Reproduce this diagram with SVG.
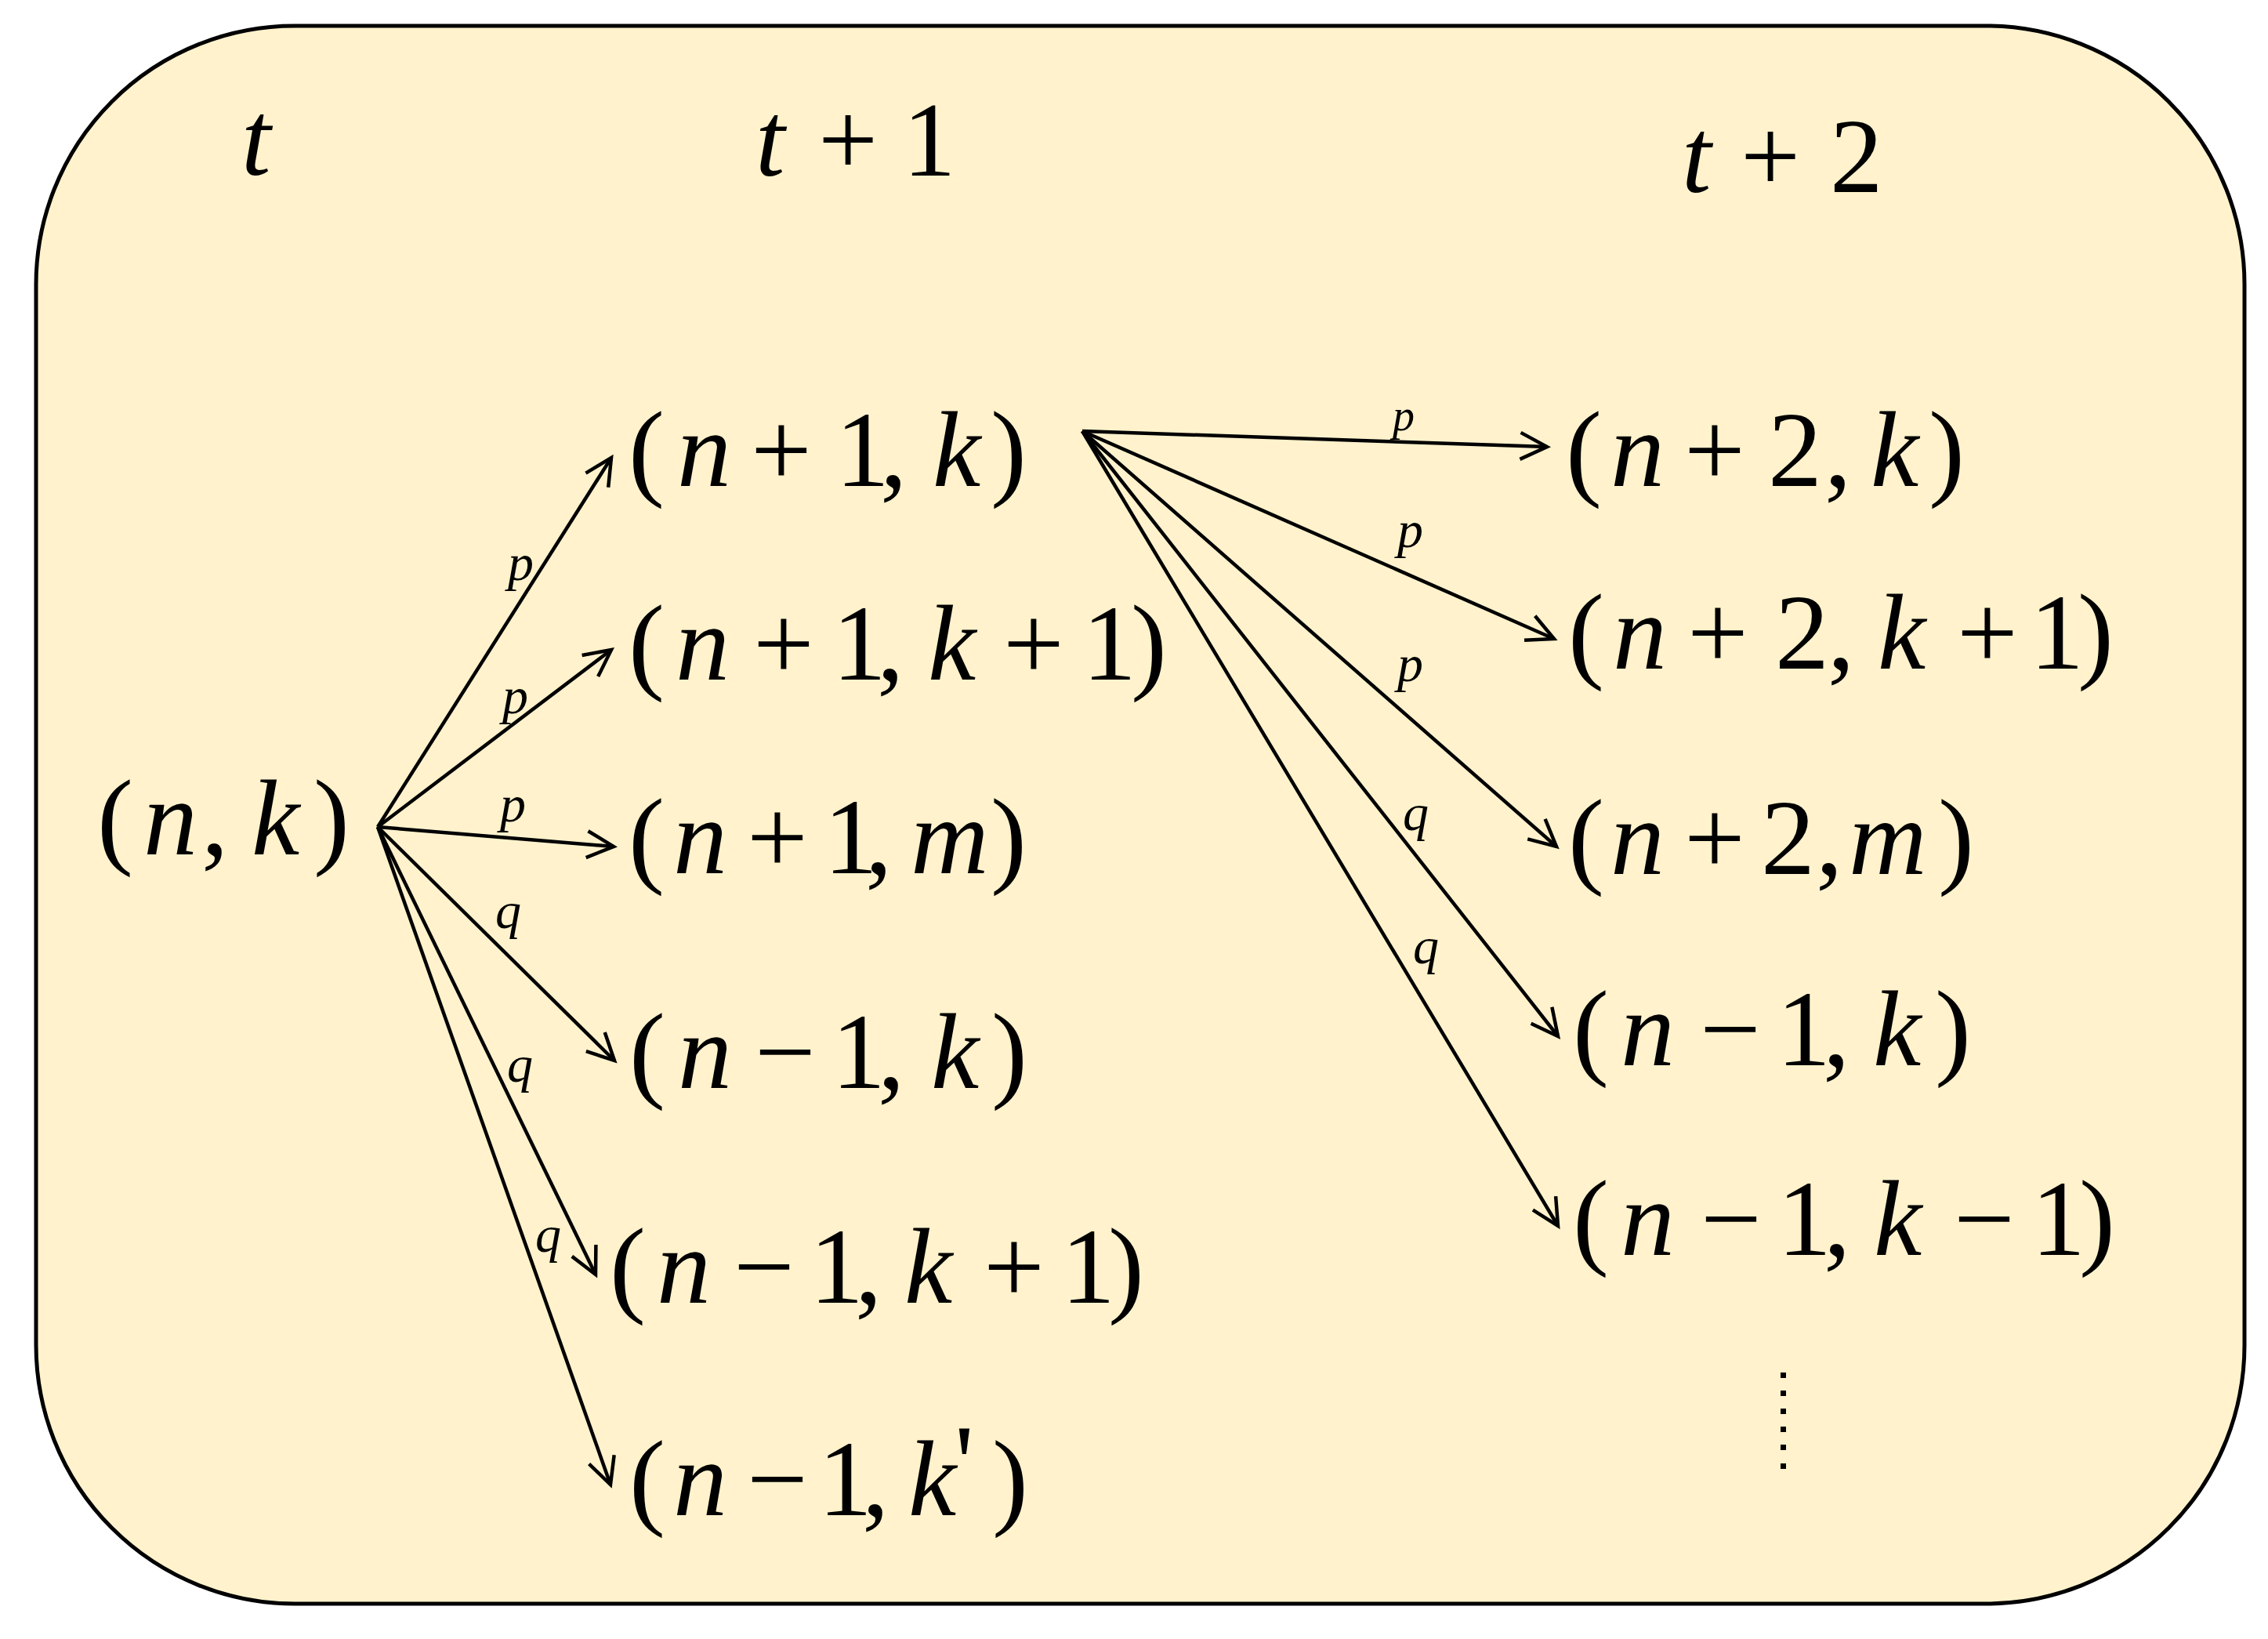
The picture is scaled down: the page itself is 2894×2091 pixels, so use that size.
<svg xmlns="http://www.w3.org/2000/svg" width="2894" height="2091" viewBox="0 0 2894 2091">
<style>
  text { font-family: "Liberation Serif", "Times New Roman", serif; fill: #000; }
  .nd { font-size: 138px; }
  .hd { font-size: 135px; }
  .lb { font-size: 66px; font-style: italic; }
  .i { font-style: italic; }
  .edge { stroke: #000; stroke-width: 4.5; fill: none; marker-end: url(#arr); }
</style>
<defs>
  <marker id="arr" markerUnits="userSpaceOnUse" orient="auto" refX="0" refY="0" markerWidth="60" markerHeight="60" viewBox="-45 -30 60 60" overflow="visible">
    <path d="M -34,-17 L 0,0 L -34,17" fill="none" stroke="#000" stroke-width="4.5" stroke-linejoin="miter"/>
  </marker>
</defs>
<rect id="frame" x="46" y="33" width="2818" height="2013" rx="330" ry="330" fill="#FFF2CC" stroke="#000" stroke-width="5"/>

<g id="header-t"><text class="hd i" x="308" y="223">t</text></g>
<g id="header-t1"><text class="hd" x="964 1044 1152" y="224"><tspan class="i">t</tspan>+1</text></g>
<g id="header-t2"><text class="hd" x="2146 2221 2335" y="245"><tspan class="i">t</tspan>+2</text></g>

<g id="connectors">
  <line class="edge" x1="482" y1="1055" x2="780" y2="584"/>
  <line class="edge" x1="482" y1="1055" x2="780" y2="829"/>
  <line class="edge" x1="482" y1="1055" x2="783" y2="1080"/>
  <line class="edge" x1="482" y1="1055" x2="784" y2="1353"/>
  <line class="edge" x1="482" y1="1055" x2="760" y2="1626"/>
  <line class="edge" x1="482" y1="1055" x2="779" y2="1894"/>
  <line class="edge" x1="1381" y1="550" x2="1974" y2="570"/>
  <line class="edge" x1="1381" y1="550" x2="1983" y2="815"/>
  <line class="edge" x1="1381" y1="550" x2="1986" y2="1080"/>
  <line class="edge" x1="1381" y1="550" x2="1988" y2="1322"/>
  <line class="edge" x1="1381" y1="550" x2="1988" y2="1564"/>
</g>

<g id="edge-labels">
  <text class="lb" x="648" y="740">p</text>
  <text class="lb" x="641" y="910">p</text>
  <text class="lb" x="638" y="1048">p</text>
  <text class="lb" x="632" y="1184">q</text>
  <text class="lb" x="647" y="1380">q</text>
  <text class="lb" x="683" y="1597">q</text>
  <text class="lb" x="1777" y="549" style="font-size:56px">p</text>
  <text class="lb" x="1783" y="698">p</text>
  <text class="lb" x="1783" y="869">p</text>
  <text class="lb" x="1790" y="1059">q</text>
  <text class="lb" x="1803" y="1229">q</text>
</g>

<g id="node-n-k"><text class="nd" x="124 183 257 321 400" y="1090">(<tspan class="i">n</tspan>,<tspan class="i">k</tspan>)</text></g>

<g id="node-n1-k"><text class="nd" x="802 864 958 1066 1123 1190 1264" y="620">(<tspan class="i">n</tspan>+1,<tspan class="i">k</tspan>)</text></g>

<g id="node-n1-k1"><text class="nd" x="802 862 961 1062 1119 1184 1280 1381 1443" y="867">(<tspan class="i">n</tspan>+1,<tspan class="i">k</tspan>+1)</text></g>

<g id="node-n1-m"><text class="nd" x="802 859 953 1051 1104 1162 1264" y="1114">(<tspan class="i">n</tspan>+1,<tspan class="i">m</tspan>)</text></g>

<g id="node-nm1-k"><text class="nd" x="803 865 963 1061 1120 1188 1265" y="1388">(<tspan class="i">n</tspan>−1,<tspan class="i">k</tspan>)</text></g>

<g id="node-nm1-k1"><text class="nd" x="778 838 936 1033 1091 1154 1255 1354 1414" y="1662">(<tspan class="i">n</tspan>−1,<tspan class="i">k</tspan>+1)</text></g>

<g id="node-nm1-kp"><text class="nd" x="803 859 953 1044 1100 1159 1218 1266" y="1933 1933 1933 1933 1933 1933 1913 1933">(<tspan class="i">n</tspan>−1,<tspan class="i">k</tspan>')</text></g>

<g id="node-n2-k"><text class="nd" x="1998 2055 2149 2256 2328 2387 2461" y="620">(<tspan class="i">n</tspan>+2,<tspan class="i">k</tspan>)</text></g>

<g id="node-n2-k1"><text class="nd" x="2001 2058 2153 2265 2332 2396 2497 2590 2651" y="853">(<tspan class="i">n</tspan>+2,<tspan class="i">k</tspan>+1)</text></g>

<g id="node-n2-m"><text class="nd" x="2001 2055 2149 2247 2317 2359 2473" y="1115">(<tspan class="i">n</tspan>+2,<tspan class="i">m</tspan>)</text></g>

<g id="node-nm1-k-r"><text class="nd" x="2007 2068 2169 2267 2326 2390 2469" y="1359">(<tspan class="i">n</tspan>−1,<tspan class="i">k</tspan>)</text></g>

<g id="node-nm1-km1"><text class="nd" x="2007 2068 2170 2268 2327 2391 2493 2592 2653" y="1601">(<tspan class="i">n</tspan>−1,<tspan class="i">k</tspan>−1)</text></g>

<g id="ellipsis">
  <rect x="2272" y="1751" width="7" height="7"/>
  <rect x="2272" y="1774" width="7" height="7"/>
  <rect x="2272" y="1797" width="7" height="7"/>
  <rect x="2272" y="1820" width="7" height="7"/>
  <rect x="2272" y="1843" width="7" height="7"/>
  <rect x="2272" y="1867" width="7" height="7"/>
</g>
</svg>
